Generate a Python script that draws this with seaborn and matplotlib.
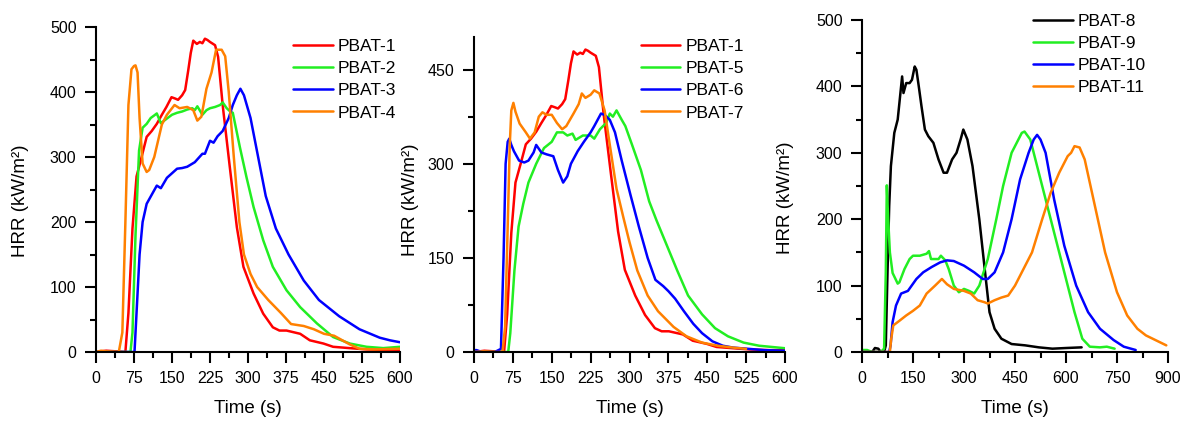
import matplotlib
matplotlib.use("Agg")
import matplotlib.pyplot as plt
import seaborn as sns
from matplotlib.ticker import MultipleLocator

# HRR curves (time in s, HRR in kW/m2)
pbat1_t = [0, 20, 40, 58, 64, 72, 80, 90, 100, 110, 120, 130, 139, 149, 156, 162, 170, 176, 182, 187,
           192, 199, 205, 210, 215, 220, 225, 235, 241, 250, 264, 278, 291, 311, 330, 349, 362, 376, 403, 422,
           449, 468, 500, 534, 570, 600]
pbat1_hrr = [0, 2, 1, 0, 60, 190, 270, 300, 331, 340, 351, 365, 377, 392, 390, 388, 395, 403, 433, 460,
             479, 474, 477, 475, 482, 480, 477, 472, 454, 380, 285, 192, 131, 90, 59, 38, 33, 33, 28, 18,
             13, 8, 6, 4, 3, 3]

pbat2_t = [0, 40, 68, 72, 78, 85, 92, 100, 108, 115, 120, 128, 138, 150, 160, 170, 180, 190, 195, 200,
           210, 218, 225, 235, 245, 250, 258, 265, 270, 284, 297, 311, 330, 349, 376, 403, 436, 468, 501, 534,
           567, 600]
pbat2_hrr = [0, 0, 0, 30, 180, 310, 345, 351, 360, 364, 367, 352, 358, 365, 368, 370, 373, 375, 372, 378,
             365, 372, 375, 377, 380, 384, 375, 370, 368, 315, 269, 223, 172, 131, 95, 69, 44, 23, 13, 8,
             6, 8]

pbat3_t = [0, 40, 76, 80, 86, 92, 100, 110, 120, 128, 140, 150, 160, 170, 180, 195, 210, 215, 225, 232,
           240, 250, 262, 270, 278, 285, 292, 305, 320, 335, 355, 380, 410, 440, 480, 520, 560, 580, 600]
pbat3_hrr = [0, 0, 0, 60, 150, 200, 228, 242, 256, 252, 268, 275, 282, 283, 285, 292, 305, 305, 325, 322,
             332, 340, 360, 380, 395, 405, 395, 360, 300, 240, 190, 150, 110, 80, 55, 35, 22, 18, 15]

pbat4_t = [0, 10, 20, 45, 52, 58, 64, 70, 75, 78, 82, 86, 92, 100, 105, 115, 130, 140, 155, 165,
           180, 192, 200, 208, 218, 228, 237, 248, 255, 262, 272, 283, 292, 305, 318, 340, 365, 385, 410, 430,
           450, 470, 500, 520, 550, 600]
pbat4_hrr = [0, 2, 1, 0, 30, 200, 380, 435, 440, 441, 430, 360, 290, 277, 280, 300, 350, 365, 380, 375,
             377, 372, 356, 362, 405, 430, 465, 465, 455, 400, 300, 200, 150, 120, 100, 80, 60, 43, 40, 35,
             28, 25, 12, 5, 4, 5]

pbat5_t = [0, 40, 66, 70, 78, 86, 95, 105, 120, 135, 150, 160, 172, 180, 190, 196, 210, 225, 232, 243,
           255, 262, 268, 275, 285, 292, 305, 322, 338, 352, 372, 392, 413, 440, 465, 490, 520, 550, 600]
pbat5_hrr = [0, 0, 0, 30, 130, 200, 236, 270, 300, 325, 335, 350, 350, 345, 348, 338, 345, 345, 340, 355,
             365, 380, 375, 385, 370, 360, 330, 290, 240, 210, 170, 130, 90, 60, 38, 25, 15, 10, 6]

pbat6_t = [0, 5, 15, 40, 52, 57, 61, 65, 68, 72, 77, 87, 97, 105, 115, 120, 130, 140, 153, 162,
           172, 180, 187, 200, 212, 225, 232, 245, 252, 262, 272, 285, 302, 318, 335, 350, 365, 375, 388, 405,
           423, 440, 460, 480, 500, 530, 560, 600]
pbat6_hrr = [3, 3, 0, 0, 5, 150, 300, 335, 340, 330, 320, 305, 302, 305, 318, 330, 318, 315, 312, 290,
             270, 280, 300, 320, 335, 350, 360, 380, 378, 370, 350, 305, 250, 200, 150, 115, 105, 97, 85, 65,
             45, 30, 17, 10, 7, 5, 3, 2]

pbat7_t = [0, 20, 40, 55, 60, 65, 69, 72, 76, 80, 88, 100, 108, 117, 125, 132, 140, 150, 160, 170,
           178, 192, 202, 208, 215, 225, 232, 242, 252, 262, 275, 288, 300, 315, 335, 355, 385, 410, 440, 470,
           500, 525]
pbat7_hrr = [0, 1, 0, 0, 40, 200, 330, 385, 397, 383, 364, 350, 340, 350, 375, 382, 378, 378, 365, 355,
             360, 380, 395, 412, 405, 410, 417, 412, 385, 330, 260, 215, 175, 130, 90, 65, 40, 25, 15, 10,
             7, 5]

pbat8_t = [0, 30, 38, 48, 55, 65, 70, 75, 80, 85, 95, 105, 113, 118, 122, 130, 140, 147, 155, 160,
           167, 175, 185, 195, 210, 225, 240, 250, 265, 278, 290, 298, 310, 325, 345, 362, 375, 390, 410, 440,
           480, 520, 560, 600, 646]
pbat8_hrr = [0, 0, 6, 5, 0, 0, 10, 120, 220, 280, 330, 350, 390, 415, 390, 405, 405, 410, 430, 425,
             400, 370, 335, 325, 315, 290, 270, 270, 290, 300, 320, 335, 320, 280, 200, 120, 60, 35, 20, 12,
             10, 7, 5, 6, 7]

pbat9_t = [0, 15, 30, 55, 65, 70, 73, 77, 82, 90, 105, 110, 125, 140, 150, 170, 190, 197, 203, 210,
           225, 232, 245, 255, 270, 285, 300, 315, 330, 345, 370, 395, 415, 440, 470, 478, 495, 520, 555, 590,
           625, 648, 670, 700, 720, 743]
pbat9_hrr = [3, 3, 0, 0, 5, 120, 251, 200, 150, 119, 103, 105, 125, 140, 145, 145, 148, 152, 140, 140,
             140, 145, 138, 125, 100, 90, 95, 92, 88, 100, 140, 200, 250, 300, 330, 332, 320, 270, 200, 130,
             60, 20, 8, 7, 8, 5]

pbat10_t = [0, 40, 80, 84, 90, 100, 115, 135, 160, 180, 205, 230, 250, 270, 300, 330, 355, 370, 390, 415,
            440, 465, 490, 505, 515, 525, 540, 565, 595, 630, 665, 700, 740, 770, 805]
pbat10_hrr = [0, 0, 0, 10, 45, 70, 88, 92, 110, 120, 128, 135, 138, 137, 130, 120, 110, 110, 120, 150,
              200, 260, 300, 320, 327, 320, 300, 230, 160, 100, 60, 35, 18, 8, 3]

pbat11_t = [0, 40, 82, 86, 92, 110, 130, 150, 170, 190, 215, 235, 250, 270, 300, 320, 340, 360, 370, 390,
            410, 430, 450, 470, 500, 530, 555, 580, 605, 615, 625, 640, 655, 685, 715, 750, 780, 810, 835, 855,
            875, 895]
pbat11_hrr = [0, 0, 0, 20, 40, 47, 55, 62, 70, 88, 100, 110, 102, 95, 92, 88, 78, 75, 73, 78,
              82, 85, 100, 120, 150, 200, 240, 270, 295, 300, 310, 308, 290, 220, 150, 90, 55, 35, 25, 20,
              15, 10]

RED, GREEN, BLUE, ORANGE, BLACK = "#FF0000", "#22EE22", "#0000FF", "#FF8000", "#000000"

panels = [
    [("PBAT-1", pbat1_t, pbat1_hrr, RED), ("PBAT-2", pbat2_t, pbat2_hrr, GREEN),
     ("PBAT-3", pbat3_t, pbat3_hrr, BLUE), ("PBAT-4", pbat4_t, pbat4_hrr, ORANGE)],
    [("PBAT-1", pbat1_t, pbat1_hrr, RED), ("PBAT-5", pbat5_t, pbat5_hrr, GREEN),
     ("PBAT-6", pbat6_t, pbat6_hrr, BLUE), ("PBAT-7", pbat7_t, pbat7_hrr, ORANGE)],
    [("PBAT-8", pbat8_t, pbat8_hrr, BLACK), ("PBAT-9", pbat9_t, pbat9_hrr, GREEN),
     ("PBAT-10", pbat10_t, pbat10_hrr, BLUE), ("PBAT-11", pbat11_t, pbat11_hrr, ORANGE)],
]

sns.set_style("ticks")
plt.rcParams["font.family"] = ["Liberation Sans", "DejaVu Sans"]
plt.rcParams.update({"text.color": "black", "axes.labelcolor": "black", "axes.edgecolor": "black",
                     "xtick.color": "black", "ytick.color": "black"})

W, H = 1181, 426
fig = plt.figure(figsize=(W / 100, H / 100), dpi=100)

# axes boxes in pixels: left, top, right, bottom
px_boxes = [(96, 27, 400, 352), (474, 37, 785, 352), (862, 20, 1168, 352)]
xlims = [(0, 600), (0, 600), (0, 900)]
ylims = [(0, 500), (0, 502), (0, 500)]
xmaj = [75, 75, 150]
ymaj = [100, 150, 100]
legend_anchor = [(1.0, 0.975), (0.88, 1.006), (0.94, 1.03)]
ylabel_right = [29, 419, 794]     # right edge of the rotated y label, px
ylabel_center = [201, 200, 198]   # vertical centre of the y label, px

for i, series in enumerate(panels):
    l, t, r, b = px_boxes[i]
    ax = fig.add_axes([l / W, 1 - b / H, (r - l) / W, (b - t) / H])
    for name, tt, hrr, c in series:
        sns.lineplot(x=tt, y=hrr, ax=ax, color=c, lw=1.8, label=name, estimator=None)
    ax.set_xlim(*xlims[i])
    ax.set_ylim(*ylims[i])
    ax.xaxis.set_major_locator(MultipleLocator(xmaj[i]))
    ax.xaxis.set_minor_locator(MultipleLocator(xmaj[i] / 2))
    ax.yaxis.set_major_locator(MultipleLocator(ymaj[i]))
    ax.yaxis.set_minor_locator(MultipleLocator(ymaj[i] / 2))
    ax.tick_params(which="major", length=8, width=1.5, labelsize=11.5, pad=6, direction="out")
    ax.tick_params(which="minor", length=4.5, width=1.5, direction="out")
    for s in ["left", "bottom"]:
        ax.spines[s].set_linewidth(1.5)
    sns.despine(ax=ax)
    ax.set_xlabel("Time (s)", fontsize=13.5)
    ax.set_ylabel("HRR (kW/m²)", fontsize=13.5)
    ax.xaxis.set_label_coords(0.5, -48 / (b - t))
    ax.yaxis.set_label_coords(-(l - ylabel_right[i]) / (r - l), (b - ylabel_center[i]) / (b - t))
    ax.legend(loc="upper right", bbox_to_anchor=legend_anchor[i], frameon=False, fontsize=12.5,
              handlelength=2.3, handletextpad=0.3, labelspacing=0.41, borderpad=0.2, borderaxespad=0)

fig.savefig("out.png", dpi=100)
